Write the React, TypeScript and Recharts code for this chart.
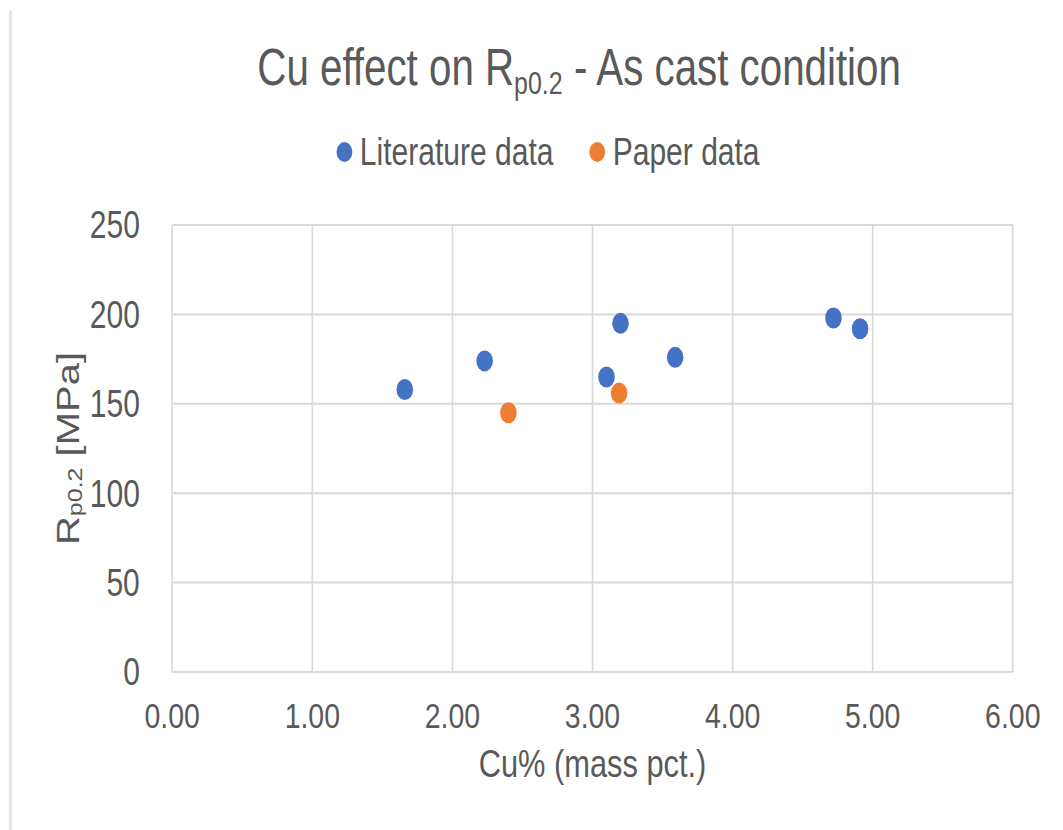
import { CartesianGrid, Legend, Scatter, ScatterChart, XAxis, YAxis } from "recharts"

// Literature data points (Cu mass %, Rp0.2 MPa)
const litCu = [1.66, 2.23, 3.1, 3.2, 3.59, 4.72, 4.91]
const litRp = [158, 174, 165, 195, 176, 198, 192]

// Paper data points
const paperCu = [2.4, 3.19]
const paperRp = [145, 156]

const xTicks = [0, 1, 2, 3, 4, 5, 6]
const yTicks = [0, 50, 100, 150, 200, 250]
const seriesNames = ["Literature data", "Paper data"]

const litData = litCu.map((cu, i) => ({ cu, rp: litRp[i] }))
const paperData = paperCu.map((cu, i) => ({ cu, rp: paperRp[i] }))

// the reference image is squeezed horizontally, so the whole chart is drawn wider and scaled
const SX = 0.79
const W = 1346
const H = 830
const FONT = "'Liberation Sans', Arial, sans-serif"
const TEXT = "#595959"
const GRID = "#D9D9D9"
const BLUE = "#4472C4"
const ORANGE = "#ED7D31"

function Dot(props: any) {
  const { cx, cy, fill } = props
  return <circle cx={cx} cy={cy} r={10.5} fill={fill} />
}

function YLabel(props: any) {
  const { viewBox } = props
  const cx = viewBox.x + 18
  const cy = viewBox.y + viewBox.height / 2
  return (
    <text
      x={cx}
      y={cy}
      transform={`rotate(-90 ${cx} ${cy})`}
      textAnchor="middle"
      dominantBaseline="central"
      fill={TEXT}
      fontSize={40}
      fontFamily={FONT}
    >
      R
      <tspan fontSize={25} dy={9}>
        p0.2
      </tspan>
      <tspan dy={-9}> [MPa]</tspan>
    </text>
  )
}

function LegendContent(props: any) {
  const { payload = [] } = props
  return (
    <div
      style={{
        display: "flex",
        justifyContent: "center",
        gap: 45,
        fontFamily: FONT,
        fontSize: 38,
        lineHeight: 1,
        color: TEXT,
      }}
    >
      {payload.map((entry: any, i: number) => (
        <div key={i} style={{ display: "flex", alignItems: "center" }}>
          <span
            style={{
              display: "inline-block",
              width: 20,
              height: 20,
              borderRadius: "50%",
              background: entry.color,
              marginRight: 10,
            }}
          />
          <span>{entry.value}</span>
        </div>
      ))}
    </div>
  )
}

export default function App() {
  return (
    <div
      style={{
        position: "fixed",
        left: 0,
        top: 0,
        width: 1063,
        height: 830,
        background: "#fff",
        overflow: "hidden",
      }}
    >
      <div
        style={{
          position: "absolute",
          left: 9,
          top: 10,
          width: 3,
          height: 820,
          background: "#E6E6E6",
        }}
      />
      <div
        style={{
          position: "absolute",
          left: 0,
          top: 0,
          width: W,
          height: H,
          transform: `scaleX(${SX})`,
          transformOrigin: "0 0",
        }}
      >
        <div
          style={{
            position: "absolute",
            left: 0,
            top: 42,
            width: 1466,
            textAlign: "center",
            fontFamily: FONT,
            fontSize: 51,
            lineHeight: 1,
            color: TEXT,
          }}
        >
          Cu effect on R
          <span style={{ fontSize: "0.62em", verticalAlign: "-0.3em" }}>p0.2</span> - As cast
          condition
        </div>
        <ScatterChart width={W} height={H} margin={{ top: 225, right: 64, bottom: 98, left: 68 }}>
          <CartesianGrid stroke={GRID} strokeWidth={2} />
          <XAxis
            type="number"
            dataKey="cu"
            domain={[0, 6]}
            ticks={xTicks}
            tickFormatter={(v: number) => v.toFixed(2)}
            axisLine={false}
            tickLine={false}
            tickSize={6}
            tickMargin={24}
            height={60}
            tick={{ fill: TEXT, fontSize: 36, fontFamily: FONT }}
            label={{
              value: "Cu% (mass pct.)",
              position: "bottom",
              offset: 17,
              fill: TEXT,
              fontSize: 39,
              fontFamily: FONT,
            }}
          />
          <YAxis
            type="number"
            dataKey="rp"
            domain={[0, 250]}
            ticks={yTicks}
            axisLine={false}
            tickLine={false}
            tickSize={6}
            tickMargin={35}
            width={150}
            tick={{ fill: TEXT, fontSize: 38, fontFamily: FONT }}
            label={<YLabel />}
          />
          <Legend
            verticalAlign="middle"
            layout="horizontal"
            content={<LegendContent />}
            wrapperStyle={{ top: 133, left: 0, width: 1387 }}
          />
          <Scatter name={seriesNames[0]} data={litData} fill={BLUE} shape={<Dot />} isAnimationActive={false} />
          <Scatter name={seriesNames[1]} data={paperData} fill={ORANGE} shape={<Dot />} isAnimationActive={false} />
        </ScatterChart>
      </div>
    </div>
  )
}
